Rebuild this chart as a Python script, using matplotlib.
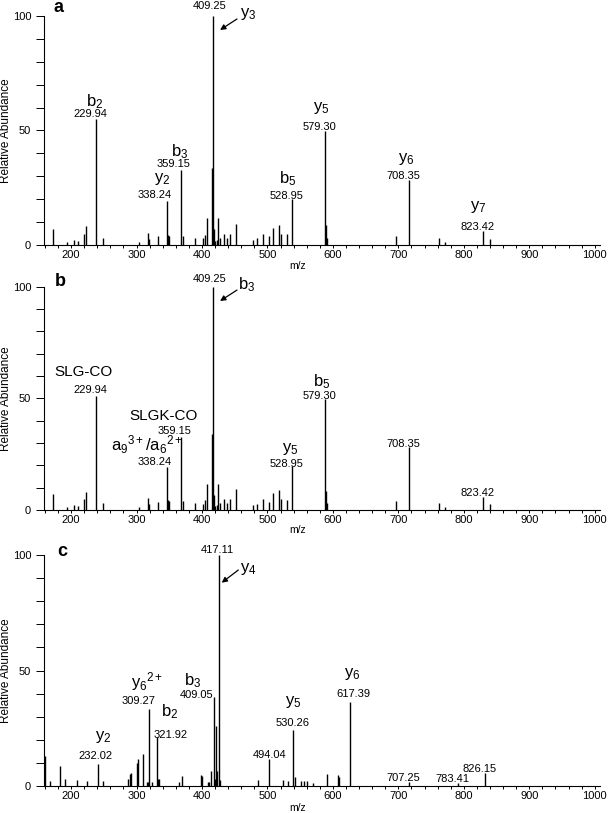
"""
MS/MS spectra, three stacked panels (a, b, c) sharing the m/z axis.
Stick spectra with fragment annotations above the labelled peaks.
"""
import numpy as np
import matplotlib
matplotlib.use('Agg')
import matplotlib.pyplot as plt
from matplotlib.ticker import MultipleLocator, FixedLocator

plt.rcParams['font.family'] = ['Liberation Sans', 'DejaVu Sans']
plt.rcParams['mathtext.fontset'] = 'custom'
plt.rcParams['mathtext.rm'] = 'Liberation Sans'
plt.rcParams['mathtext.it'] = 'Liberation Sans:italic'
plt.rcParams['mathtext.bf'] = 'Liberation Sans:bold'

INK = '#000000'
FIG_W, FIG_H = 6.08, 8.13   # 608 x 813 px at dpi 100
XMIN, XMAX = 159, 1008

# ---- Data: panels a and b (same spectrum, different assignments) ----
MZ_AB = [173, 193, 204.6, 211, 220, 222.4, 238, 249, 304, 318, 319.5, 333,
         346.6, 348, 349.5, 368, 370.5, 390, 401.5, 404.5, 407.6, 415.3,
         416.3, 418, 420.5, 423, 425, 427, 433.6, 438, 442.7, 452, 478,
         484.4, 493, 501.8, 508.9, 518, 520, 530.5, 537.9, 587.8, 590,
         591.5, 696.6, 716, 761.8, 771.5, 829, 840]
INT_A = [7.1, 1.4, 2.2, 1.9, 5, 8.1, 55, 3, 1.4, 5.4, 2.5, 3.8,
         19.3, 4.5, 4, 32.9, 4, 3, 2.9, 4.5, 11.6, 33.6,
         100, 6.8, 1.7, 2.2, 11.6, 3.2, 4.9, 3, 4.9, 9.3, 2.2,
         2.9, 5, 3.8, 7.4, 8.7, 4.9, 4.6, 19.9, 49.6, 8.6,
         3, 4, 28.4, 3, 1.4, 6.1, 2.8]
INT_B = [7.1, 1.4, 2.2, 1.9, 5, 8.1, 51, 3, 1.4, 5.4, 2.5, 3.8,
         19.1, 4.5, 4, 32.8, 4, 3, 2.9, 4.5, 11.6, 33.9,
         100, 6.8, 1.7, 2.2, 11.8, 3.2, 4.9, 3, 4.9, 9.4, 2.2,
         2.9, 5, 3.8, 7.4, 8.8, 4.9, 4.6, 19.7, 49.6, 8.6,
         3, 4.2, 28.4, 3, 1.4, 6, 2.8]

# ---- Data: panel c ----
MZ_C = [159.5, 167, 183, 190, 209.6, 225, 241, 248, 286.5, 290, 291.5,
        300.5, 302, 309.5, 315.5, 317, 319, 323, 330.8, 333, 334.5, 365,
        369, 398.5, 400, 409.5, 411, 413.7, 417.8, 419.3, 421.8, 423.3,
        425.4, 427, 486, 502.8, 523, 531.8, 539.4, 541.8, 551.6, 555.6,
        559.6, 569, 590.4, 607, 609, 626, 716, 791, 833]
INT_C = [13, 2.3, 8.7, 2.9, 2.6, 2, 9.4, 2, 2.9, 5.3, 5.5,
         10, 11.8, 13.7, 1.9, 1.9, 33.3, 1.7, 21, 2.9, 3.2, 1.6,
         4.3, 4.6, 4.5, 1.7, 1.7, 6.5, 38.4, 2.9, 26, 6.6,
         100, 2.6, 2.6, 11.5, 2.6, 2.3, 24.2, 4, 2.2, 2.2,
         2.2, 1.4, 5, 4.8, 4, 36.5, 1.9, 1.2, 5.5]

# ---- Peak labels (m/z readouts) and fragment assignments ----
NUM_A = ['229.94', '338.24', '359.15', '409.25', '528.95', '579.30',
         '708.35', '823.42']
ION_A = [r'b$_2$', r'y$_2$', r'b$_3$', r'y$_3$', r'b$_5$', r'y$_5$',
         r'y$_6$', r'y$_7$']
NUM_B = NUM_A
ION_B = ['SLG-CO', 'SLGK-CO', r'a$_9$$^{3+}$/a$_6$$^{2+}$', r'b$_3$',
         r'y$_5$', r'b$_5$']
NUM_C = ['417.11', '409.05', '309.27', '321.92', '232.02', '494.04',
         '530.26', '617.39', '707.25', '783.41', '826.15']
ION_C = [r'y$_4$', r'b$_3$', r'y$_6$$^{2+}$', r'b$_2$', r'y$_2$', r'y$_5$',
         r'y$_6$']

# ---- Layout: text anchors in data coords (x = m/z, y = abundance) ----
NUM_POS_A = [(230, 56.0), (328.2, 20.4), (356.2, 33.9), (412.2, 102.9),
             (529.3, 20.1), (579, 50.2), (707.3, 28.8), (821, 6.6)]
ION_POS_A = [(236.6, 60.6), (339.4, 27.6), (366.4, 38.8), (470.7, 99.4),
             (530.2, 27.0), (582.7, 58.6), (711.5, 36.2), (821.8, 15.1)]
NUM_POS_B = [(230, 52.2), (328, 20.1), (357.7, 33.9), (412, 102),
             (529.3, 19.4), (579, 49.6), (707.4, 28.4), (821, 6.3)]
ION_POS_B = [(218.8, 60.0), (341, 40.4), (315.5, 26.6), (468, 99),
             (535.4, 25.9), (582.7, 55.6)]
NUM_POS_C = [(423.4, 100.7), (391.9, 38.2), (302.8, 35.5), (352.2, 20.9),
             (237.7, 11.8), (502.8, 12), (537.9, 26.1), (631, 38.7),
             (707.4, 2.3), (782.7, 1.6), (824.4, 6.2)]
ION_POS_C = [(470.7, 92.5), (385.2, 43.6), (315.5, 42.8), (351, 30.2),
             (249.3, 20.0), (539.4, 35.2), (630, 47.0)]

# axes boxes in figure pixels: (top, bottom) of the 0-100 range
LEFT_PX, RIGHT_PX = 44.3, 600
PANELS_PX = [(16, 245), (286.7, 510), (555, 786)]


def style_axis(ax, mzlabel_y):
    ax.set_xlim(XMIN, XMAX)
    ax.set_ylim(0, 100)
    ax.spines[['top', 'right']].set_visible(False)
    ax.spines[['left', 'bottom']].set_linewidth(0.8)
    ax.xaxis.set_major_locator(FixedLocator(np.arange(200, 1001, 100)))
    ax.xaxis.set_minor_locator(MultipleLocator(20))
    ax.yaxis.set_major_locator(FixedLocator([0, 50, 100]))
    ax.yaxis.set_minor_locator(MultipleLocator(10))
    ax.tick_params(axis='x', which='both', direction='out', length=2.5,
                   width=0.7, pad=1, labelsize=8)
    ax.tick_params(axis='y', which='both', direction='out', length=6,
                   width=0.7, pad=3.5, labelsize=8)
    ax.set_xlabel('m/z', fontsize=7.5)
    ax.xaxis.set_label_coords(0.455, mzlabel_y)


def draw_panel(ax, mz, inten, nums, num_pos, ions, ion_pos, arrow):
    ax.vlines(mz, 0, inten, colors=INK, lw=1.0)
    for txt, (x, y) in zip(nums, num_pos):
        ax.text(x, y, txt, fontsize=8, ha='center', va='baseline',
                clip_on=False)
    for txt, (x, y) in zip(ions, ion_pos):
        # plain-word assignments (SLG-CO ...) run a touch smaller
        size = 12 if '$' in txt else 11
        ax.text(x, y, txt, fontsize=size, ha='center', va='baseline',
                clip_on=False)
    ax.annotate('', xy=arrow[1], xytext=arrow[0],
                arrowprops=dict(arrowstyle='-|>', color=INK, lw=0.9,
                                mutation_scale=8, shrinkA=0, shrinkB=0),
                annotation_clip=False)


fig = plt.figure(figsize=(FIG_W, FIG_H), dpi=100)
fig.patch.set_facecolor('white')

axes = []
for top, bot in PANELS_PX:
    ax = fig.add_axes([LEFT_PX / 608, 1 - bot / 813,
                       (RIGHT_PX - LEFT_PX) / 608, (bot - top) / 813])
    axes.append(ax)

draw_panel(axes[0], MZ_AB, INT_A, NUM_A, NUM_POS_A, ION_A, ION_POS_A,
           ((453.4, 98.7), (427.5, 93.9)))
draw_panel(axes[1], MZ_AB, INT_B, NUM_B, NUM_POS_B, ION_B, ION_POS_B,
           ((453.4, 98.5), (427.5, 93.6)))
draw_panel(axes[2], MZ_C, INT_C, NUM_C, NUM_POS_C, ION_C, ION_POS_C,
           ((455.4, 93.5), (430, 88)))

style_axis(axes[0], -0.068)
style_axis(axes[1], -0.068)
style_axis(axes[2], -0.072)

# y label and panel letters placed in figure pixels
for (top, bot), letter, (lx, ly) in zip(
        PANELS_PX, ['a', 'b', 'c'], [(58.5, 11.5), (60.5, 286), (62, 556)]):
    fig.text(6 / 608, 1 - (top + bot) / 2 / 813, 'Relative Abundance',
             rotation=90, ha='center', va='center', fontsize=8.5)
    fig.text(lx / 608, 1 - ly / 813, letter, fontsize=13,
             fontweight='bold', ha='center', va='baseline')

fig.savefig('out.png', dpi=100, facecolor='white')
